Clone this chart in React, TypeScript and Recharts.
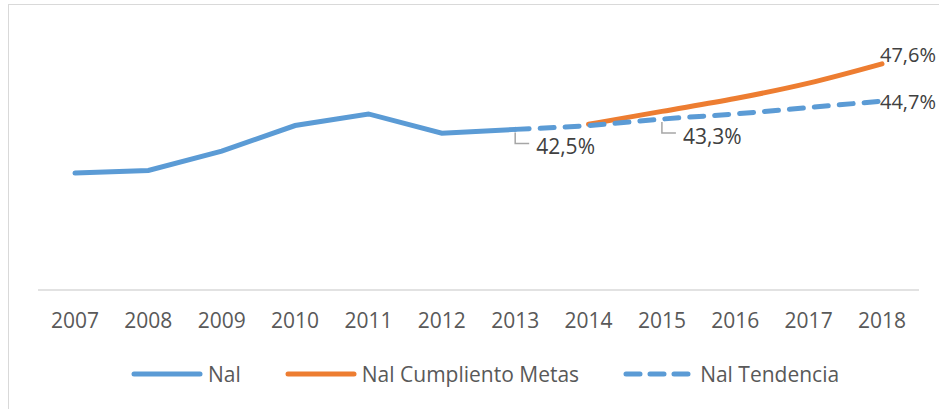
import { LineChart, Line, XAxis, YAxis } from 'recharts'

const years = ['2007', '2008', '2009', '2010', '2011', '2012', '2013', '2014', '2015', '2016', '2017', '2018']
const nal = [39.1, 39.3, 40.8, 42.8, 43.7, 42.2, 42.5, null, null, null, null, null]
const nalMetas = [null, null, null, null, null, null, null, 42.9, 43.9, 44.9, 46.1, 47.6]
const nalTendencia = [null, null, null, null, null, null, 42.5, 42.8, 43.3, 43.7, 44.2, 44.7]
const tendenciaLabelYears = ['2013', '2015', '2018']
const metasLabelYears = ['2018']

const chartData = years.map((year, i) => ({
  year,
  nal: nal[i],
  metas: nalMetas[i],
  tendencia: nalTendencia[i],
}))

const FONT = '"Open Sans", sans-serif'
const BLUE = '#5b9bd5'
const ORANGE = '#ed7d31'

const fmt = (v: number) => v.toFixed(1).replace('.', ',') + '%'

function TendenciaLabel(props: any) {
  const { x, y, value, index } = props
  if (value == null || !tendenciaLabelYears.includes(years[index])) return null
  if (years[index] === '2018') {
    // last point sits at the right edge, keep the text inside the frame
    return (
      <text x={x - 2} y={y} dominantBaseline="central" fontSize={20} fontFamily={FONT} fill="#404040">
        {fmt(value)}
      </text>
    )
  }
  return (
    <g>
      <path d={`M${x},${y + 3}V${y + 14}H${x + 14}`} stroke="#a6a6a6" strokeWidth={1.5} fill="none" />
      <text x={x + 21} y={y + 17} dominantBaseline="central" fontSize={21} fontFamily={FONT} fill="#404040">
        {fmt(value)}
      </text>
    </g>
  )
}

function MetasLabel(props: any) {
  const { x, y, value, index } = props
  if (value == null || !metasLabelYears.includes(years[index])) return null
  return (
    <text x={x - 2} y={y - 9} dominantBaseline="central" fontSize={20} fontFamily={FONT} fill="#404040">
      {fmt(value)}
    </text>
  )
}

function LegendItem({ color, dashed, label }: { color: string; dashed?: boolean; label: string }) {
  return (
    <div style={{ display: 'flex', alignItems: 'center', gap: 5 }}>
      <svg width={72} height={8}>
        <line
          x1={3}
          y1={4}
          x2={69}
          y2={4}
          stroke={color}
          strokeWidth={5}
          strokeLinecap="round"
          strokeDasharray={dashed ? '14 10' : undefined}
        />
      </svg>
      <span>{label}</span>
    </div>
  )
}

export default function App() {
  return (
    <div style={{ position: 'fixed', left: 0, top: 0, width: 939, height: 409, overflow: 'hidden', background: '#fff' }}>
      <div
        style={{
          position: 'absolute',
          left: 8,
          top: 4,
          width: 1000,
          height: 1000,
          border: '1px solid #d9d9d9',
        }}
      />
      <div style={{ position: 'absolute', left: 0, top: 0 }}>
        <LineChart width={939} height={409} data={chartData} margin={{ top: 33, right: 20, left: 38, bottom: 79 }}>
          <XAxis
            dataKey="year"
            height={40}
            padding={{ left: 37, right: 37 }}
            axisLine={{ stroke: '#d9d9d9', strokeWidth: 1.5 }}
            tickLine={false}
            tickSize={0}
            tickMargin={23}
            tick={{ fontSize: 21, fill: '#595959', fontFamily: FONT }}
            interval={0}
          />
          <YAxis hide domain={[30, 50]} />
          <Line
            dataKey="nal"
            type="linear"
            stroke={BLUE}
            strokeWidth={5}
            strokeLinecap="round"
            dot={false}
            activeDot={false}
            isAnimationActive={false}
          />
          <Line
            dataKey="metas"
            type="monotone"
            stroke={ORANGE}
            strokeWidth={5}
            strokeLinecap="round"
            dot={false}
            activeDot={false}
            label={<MetasLabel />}
            isAnimationActive={false}
          />
          <Line
            dataKey="tendencia"
            type="monotone"
            stroke={BLUE}
            strokeWidth={5}
            strokeLinecap="round"
            strokeDasharray="14 11"
            dot={false}
            activeDot={false}
            label={<TendenciaLabel />}
            isAnimationActive={false}
          />
        </LineChart>
      </div>
      <div
        style={{
          position: 'absolute',
          left: 131,
          top: 361,
          display: 'flex',
          gap: 44,
          fontFamily: FONT,
          fontSize: 21,
          color: '#595959',
          lineHeight: '26px',
        }}
      >
        <LegendItem color={BLUE} label="Nal" />
        <LegendItem color={ORANGE} label="Nal Cumpliento Metas" />
        <LegendItem color={BLUE} dashed label="Nal Tendencia" />
      </div>
    </div>
  )
}
